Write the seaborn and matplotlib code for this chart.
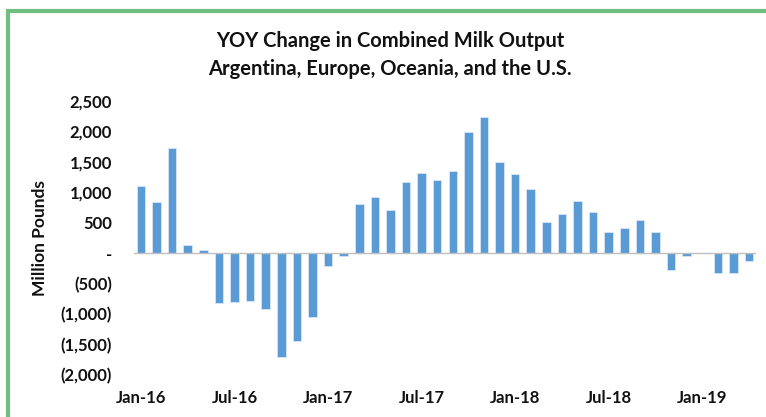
import seaborn as sns
import matplotlib.pyplot as plt
import matplotlib.ticker as mticker
from matplotlib.patches import Rectangle
import pandas as pd

sns.set_theme(style="white")
plt.rcParams['font.family'] = ['Lato', 'DejaVu Sans']

# Monthly YOY change, Jan-16 .. Apr-19 (million pounds)
months = pd.date_range("2016-01-01", "2019-04-01", freq="MS").strftime("%b-%y").tolist()
values = [1100, 835, 1720, 137, 60, -817, -806, -790, -910, -1706,
          -1448, -1042, -208, -50, 801, 916, 702, 1163, 1321, 1201,
          1343, 1996, 2232, 1497, 1300, 1053, 510, 642, 855, 680,
          351, 411, 548, 351, -269, -38, 0, -323, -323, -132]

df = pd.DataFrame({"month": months, "change": values})

fig = plt.figure(figsize=(7.66, 4.17), dpi=100)
ax = fig.add_axes([134 / 766, 42 / 417, 622 / 766, 274 / 417])

sns.barplot(data=df, x="month", y="change", color="#5B9BD5", width=0.55,
            edgecolor="#D6E6F5", linewidth=0.6, saturation=1, ax=ax)

ax.set_xlim(-0.45, 39.45)
ax.set_ylim(-2000, 2500)
ax.set_yticks(range(-2000, 2501, 500))


def fmt(v, pos):
    if v == 0:
        return "-"
    if v < 0:
        return f"({abs(v):,.0f})"
    return f"{v:,.0f}"


ax.yaxis.set_major_formatter(mticker.FuncFormatter(fmt))
ticks = list(range(0, len(months), 6))
ax.set_xticks(ticks)
ax.set_xticklabels([months[i] for i in ticks])
ax.tick_params(axis="y", length=0, pad=16, labelsize=12)
ax.tick_params(axis="x", length=0, pad=11, labelsize=12)
for lab in ax.get_xticklabels() + ax.get_yticklabels():
    lab.set_fontweight("bold")
    lab.set_color("#111111")

ax.axhline(0, color="#BFBFBF", linewidth=1)
for s in ax.spines.values():
    s.set_visible(False)

ax.set_xlabel("")
ax.set_ylabel("Million Pounds", fontsize=12.5, fontweight="bold", color="#111111")
ax.yaxis.set_label_coords(-0.138, 0.5)

fig.text(390 / 766, 1 - 41 / 417, "YOY Change in Combined Milk Output",
         ha="center", va="center", fontsize=14.5, fontweight="bold", color="#111111")
fig.text(390 / 766, 1 - 69 / 417, "Argentina, Europe, Oceania, and the U.S.",
         ha="center", va="center", fontsize=14.5, fontweight="bold", color="#111111")

# green frame (cropped at right and bottom)
fig.patches.append(Rectangle((8 / 766, -0.1), 1.2, 1.1 - 11 / 417,
                             transform=fig.transFigure, fill=False,
                             edgecolor="#70BF80", linewidth=3))

fig.savefig("out.png", dpi=100)
